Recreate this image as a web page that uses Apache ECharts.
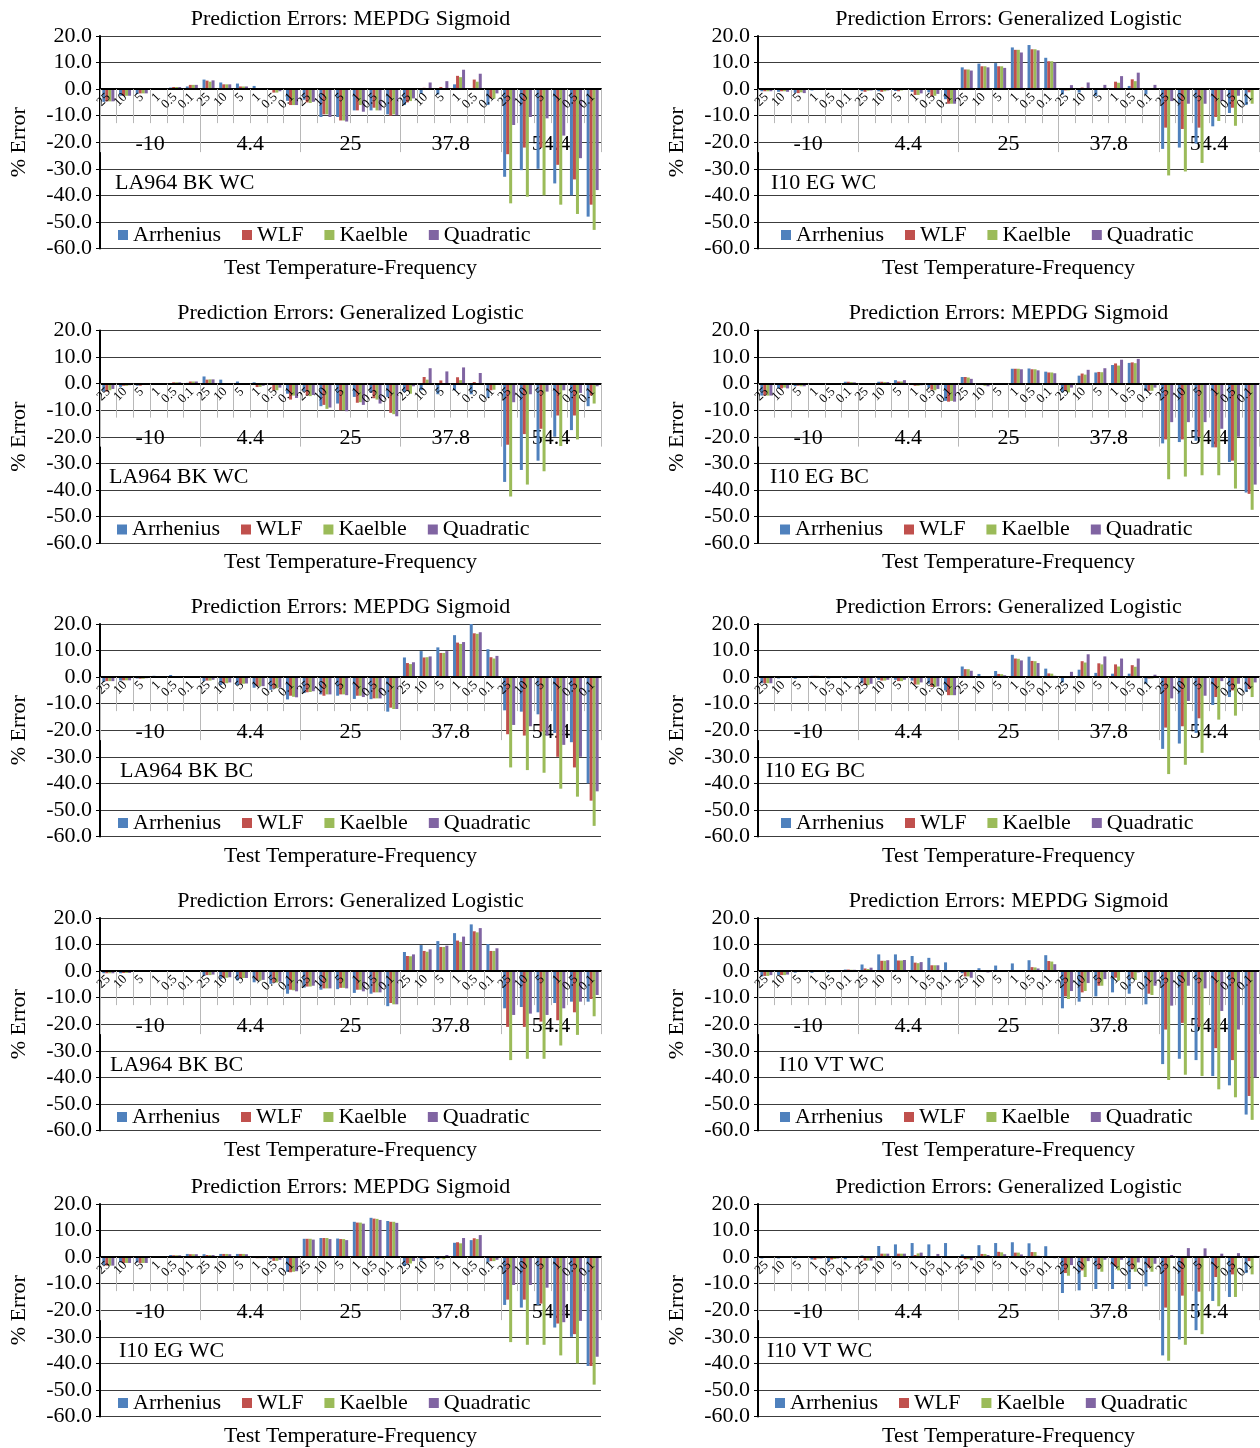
<!DOCTYPE html>
<html>
<head>
<meta charset="utf-8">
<script src="https://cdn.jsdelivr.net/npm/echarts@6/dist/echarts.min.js"></script>
<style>
  html, body { margin: 0; padding: 0; background: #ffffff; }
  #chart { width: 1260px; height: 1448px; }
</style>
</head>
<body>
<div id="chart"></div>
<script>
// Test temperatures (deg C) and loading frequencies (Hz)
const temperatures = ['-10', '4.4', '25', '37.8', '54.4'];
const frequencies = ['25', '10', '5', '1', '0.5', '0.1'];
const seriesNames = ['Arrhenius', 'WLF', 'Kaelble', 'Quadratic'];
const yMin = -60, yMax = 20, yStep = 10;

// Panel titles and mixture labels
const panelTitles = [
  'Prediction Errors: MEPDG Sigmoid', 'Prediction Errors: Generalized Logistic',
  'Prediction Errors: Generalized Logistic', 'Prediction Errors: MEPDG Sigmoid',
  'Prediction Errors: MEPDG Sigmoid', 'Prediction Errors: Generalized Logistic',
  'Prediction Errors: Generalized Logistic', 'Prediction Errors: MEPDG Sigmoid',
  'Prediction Errors: MEPDG Sigmoid', 'Prediction Errors: Generalized Logistic'
];
const panelMixes = [
  'LA964 BK WC', 'I10 EG WC',
  'LA964 BK WC', 'I10 EG BC',
  'LA964 BK BC', 'I10 EG BC',
  'LA964 BK BC', 'I10 VT WC',
  'I10 EG WC', 'I10 VT WC'
];
const xAxisTitle = 'Test Temperature-Frequency';
const yAxisTitle = '% Error';

// % error per temperature-frequency combination (30 per series)
// Panel 1: LA964 BK WC, MEPDG sigmoid
const p1Arrhenius = [-4.8,-2.5,-1.8,0.1,0.6,1.0, 3.6,2.5,2.1,1.2,-0.2,-4.4, -4.0,-10.5,-10.5,-8.0,-8.0,-9.5, -6.0,-1.8,-2.0,1.8,0.3,-6.0, -33.0,-30.5,-30.0,-35.5,-40.0,-48.0];
const p1WLF       = [-4.6,-2.5,-1.6,0.1,0.8,1.6, 3.2,1.8,1.0,0.1,-1.3,-6.0, -5.0,-9.5,-11.8,-8.0,-7.0,-10.0, -5.0,0.5,0.8,5.0,3.6,-3.5, -24.5,-22.0,-22.0,-28.5,-34.0,-43.5];
const p1Kaelble   = [-4.6,-2.5,-1.6,0.0,0.8,1.6, 2.8,1.8,1.0,0.0,-1.3,-6.0, -5.2,-9.5,-11.8,-6.0,-8.0,-9.5, -4.5,0.3,0.3,4.5,2.8,-3.6, -43.0,-40.5,-40.0,-43.5,-47.0,-53.0];
const p1Quadratic = [-4.6,-2.5,-1.6,0.0,0.8,1.6, 3.3,1.8,1.0,0.0,-0.8,-6.0, -4.8,-10.5,-12.2,-8.5,-8.0,-9.8, -3.5,2.5,3.0,7.3,5.8,-1.6, -13.5,-10.5,-11.0,-17.5,-26.0,-38.0];

// Panel 2: I10 EG WC, generalized logistic
const p2Arrhenius = [-0.8,-1.0,-1.4,-0.5,0.0,0.3, -0.8,-0.8,-0.7,-1.0,-1.2,-3.8, 8.2,9.6,9.8,15.7,16.6,11.8, -2.0,-1.3,-2.6,0.3,1.2,-2.0, -22.5,-22.0,-20.5,-14.0,-9.0,-6.0];
const p2WLF       = [-0.8,-0.8,-1.5,-0.2,0.0,0.3, -1.0,-1.0,-0.8,-2.2,-2.7,-5.5, 7.4,8.6,8.6,14.8,15.0,10.5, -0.5,0.6,-0.2,2.8,3.7,0.0, -14.5,-15.0,-14.5,-10.5,-7.0,-1.2];
const p2Kaelble   = [-0.8,-0.8,-1.2,0.0,0.0,0.3, -0.6,-0.8,-0.5,-2.2,-2.5,-5.5, 7.4,8.6,8.6,14.8,15.0,10.5, -0.5,0.2,-0.2,2.4,3.0,0.0, -32.5,-31.0,-27.8,-12.0,-13.8,-5.5];
const p2Quadratic = [-0.8,-1.0,-1.5,0.0,0.0,0.3, -0.5,-0.5,-0.3,-1.6,-1.8,-5.5, 7.0,8.2,8.0,13.8,14.6,10.0, 1.5,2.5,1.6,4.9,6.2,1.6, -4.5,-5.5,-5.5,-4.5,-2.5,-0.3];

// Panel 3: LA964 BK WC, generalized logistic
const p3Arrhenius = [-3.0,-1.2,-0.8,-0.1,0.2,0.3, 2.7,1.5,0.8,0.5,-0.2,-3.8, -3.0,-8.5,-7.5,-5.0,-3.5,-5.0, -3.2,-2.5,-4.0,-2.5,-4.0,-5.3, -37.0,-32.5,-29.0,-20.0,-17.5,-8.5];
const p3WLF       = [-3.0,-0.8,-0.8,-0.1,0.5,0.8, 1.5,0.0,-0.5,-1.3,-2.5,-6.0, -4.5,-8.0,-10.0,-7.2,-5.5,-11.0, -2.8,2.5,1.2,2.4,0.6,-2.5, -23.0,-19.0,-17.0,-12.0,-12.0,-4.5];
const p3Kaelble   = [-2.5,-0.8,-0.5,-0.1,0.5,0.8, 1.6,-0.3,-0.5,-1.2,-2.5,-4.5, -4.7,-9.5,-10.0,-7.0,-6.0,-11.5, -3.8,1.5,0.0,1.3,-0.3,-2.3, -42.5,-38.0,-33.0,-23.5,-21.0,-7.5];
const p3Quadratic = [-2.0,-0.6,-0.3,-0.1,0.5,0.8, 1.6,0.0,-0.5,-0.8,-1.5,-5.4, -4.3,-9.0,-10.4,-8.0,-7.5,-12.3, -1.0,5.8,4.6,6.1,4.0,-0.3, -7.0,-4.0,-3.0,-2.5,-3.5,-1.0];

// Panel 4: I10 EG BC, MEPDG sigmoid
const p4Arrhenius = [-4.5,-1.8,-1.0,0.1,0.0,0.7, -0.3,0.7,1.3,-0.5,-1.5,-6.5, 2.5,-0.5,0.2,5.6,5.7,4.5, -3.3,3.0,4.2,7.0,7.8,-2.8, -22.5,-22.0,-21.5,-24.0,-29.5,-41.0];
const p4WLF       = [-4.5,-1.8,-0.8,0.1,0.0,0.7, -0.4,0.7,0.8,-0.8,-2.3,-6.8, 2.5,-0.5,0.0,5.6,5.4,4.2, -2.8,3.8,4.4,7.6,8.0,-2.7, -21.0,-21.0,-20.0,-24.0,-29.0,-41.5];
const p4Kaelble   = [-4.5,-1.5,-1.0,0.1,0.0,0.6, -0.3,0.6,0.8,-0.8,-2.5,-6.5, 2.3,-0.8,0.0,5.6,5.4,4.2, -3.3,3.4,4.3,6.8,7.7,-2.7, -36.0,-35.0,-34.5,-34.5,-39.5,-47.5];
const p4Quadratic = [-4.5,-1.8,-1.0,0.1,0.0,0.5, -0.2,0.6,1.3,-0.6,-2.0,-6.8, 1.8,-1.0,0.0,5.4,5.0,3.9, -1.5,5.2,5.8,9.0,9.3,-1.5, -14.5,-14.5,-14.5,-17.0,-20.0,-38.0];

// Panel 5: LA964 BK BC, MEPDG sigmoid
const p5Arrhenius = [-1.8,-1.3,-0.5,0.5,0.8,0.4, -1.5,-3.0,-3.0,-4.0,-4.8,-8.4, -6.0,-6.5,-7.0,-8.2,-8.3,-13.0, 7.4,9.8,11.2,15.8,20.0,10.5, -12.5,-13.0,-14.0,-21.0,-24.5,-40.0];
const p5WLF       = [-1.5,-1.2,-0.6,0.3,0.4,0.1, -1.3,-2.3,-2.5,-3.4,-4.2,-7.0, -5.7,-7.0,-6.5,-7.0,-8.0,-11.5, 5.3,7.4,9.1,13.0,16.5,7.5, -21.5,-22.0,-20.5,-30.0,-34.0,-46.5];
const p5Kaelble   = [-1.5,-1.2,-0.6,0.3,0.4,0.1, -1.3,-2.3,-2.5,-3.4,-4.2,-7.4, -5.6,-6.5,-6.5,-7.0,-8.0,-12.0, 4.9,7.5,9.1,12.5,16.3,7.0, -34.0,-35.0,-36.0,-42.0,-45.0,-56.0];
const p5Quadratic = [-1.5,-1.2,-0.4,0.2,0.4,0.0, -1.0,-2.0,-2.4,-3.4,-4.0,-7.6, -5.3,-6.5,-6.8,-7.5,-8.0,-12.0, 5.6,7.8,9.8,13.2,16.9,8.0, -18.0,-18.5,-22.0,-25.5,-30.0,-43.0];

// Panel 6: I10 EG BC, generalized logistic
const p6Arrhenius = [-2.3,-0.5,-0.6,0.5,-0.5,-0.5, -2.3,-1.0,-1.0,-1.3,-2.5,-5.0, 4.0,1.2,2.3,8.4,7.7,3.2, -2.0,2.8,1.6,1.3,1.3,-2.5, -27.0,-25.0,-21.0,-10.5,-7.5,-5.5];
const p6WLF       = [-2.3,0.0,0.0,0.5,0.0,0.0, -3.0,-1.3,-1.5,-2.8,-3.7,-6.8, 3.0,0.4,1.2,7.0,6.1,1.4, 0.3,6.0,5.2,4.8,4.5,-0.5, -19.0,-18.5,-15.5,-7.5,-5.0,-4.5];
const p6Kaelble   = [-2.3,0.0,0.0,0.5,0.0,0.0, -3.0,-1.3,-1.5,-2.8,-3.7,-6.8, 3.0,0.3,1.1,6.9,6.0,1.3, 0.0,5.5,4.8,4.0,3.9,-0.5, -36.5,-33.0,-28.5,-16.0,-14.5,-7.5];
const p6Quadratic = [-2.3,0.0,0.0,0.3,0.0,0.0, -2.5,-1.0,-1.0,-2.0,-3.5,-6.8, 2.4,0.0,0.7,6.3,5.3,0.5, 2.0,8.6,7.8,7.0,7.0,0.9, -8.0,-9.0,-7.0,-1.5,-2.5,-2.0];

// Panel 7: LA964 BK BC, generalized logistic
const p7Arrhenius = [-0.8,-0.8,-0.3,0.3,0.4,0.0, -1.8,-3.0,-3.5,-4.2,-4.8,-8.5, -6.2,-7.0,-6.8,-8.2,-8.5,-13.2, 7.2,9.8,11.3,14.3,17.6,10.2, -14.0,-13.5,-15.5,-12.0,-11.5,-11.5];
const p7WLF       = [-0.8,-0.7,-0.3,0.2,0.3,0.0, -1.5,-2.5,-2.6,-3.5,-4.3,-7.0, -5.8,-6.5,-6.3,-7.0,-8.0,-12.0, 5.7,7.6,9.1,11.5,15.0,7.6, -21.0,-21.0,-19.0,-18.5,-15.5,-10.5];
const p7Kaelble   = [-0.8,-0.7,-0.3,0.2,0.3,0.0, -1.5,-2.5,-2.6,-3.5,-4.3,-7.2, -5.8,-6.5,-6.3,-7.0,-8.0,-12.5, 5.6,7.3,9.1,11.0,14.6,7.6, -33.5,-33.0,-33.0,-28.0,-24.0,-17.0];
const p7Quadratic = [-0.8,-0.7,-0.2,0.2,0.3,0.0, -1.3,-2.3,-2.6,-3.3,-4.0,-7.6, -5.5,-6.5,-6.5,-7.6,-8.0,-12.5, 6.3,8.2,9.6,13.0,16.2,8.6, -16.5,-16.0,-16.5,-14.0,-11.5,-9.0];

// Panel 8: I10 VT WC, MEPDG sigmoid
const p8Arrhenius = [-2.0,-1.5,-0.6,-0.6,-0.5,0.6, 2.5,6.3,6.3,5.7,5.0,3.3, -0.8,1.1,2.1,2.9,4.1,6.0, -14.0,-11.5,-9.5,-8.0,-8.5,-12.5, -35.0,-33.0,-33.5,-39.5,-43.0,-54.0];
const p8WLF       = [-1.8,-1.5,-0.3,-0.3,-0.3,0.6, 1.0,3.9,4.0,3.2,2.2,0.0, -2.0,-0.3,0.0,0.3,1.5,3.8, -9.5,-8.0,-5.5,-2.5,-2.5,-8.5, -22.0,-19.5,-21.0,-29.0,-33.5,-47.0];
const p8Kaelble   = [-1.8,-1.5,-0.3,-0.3,-0.3,0.5, 0.8,3.9,4.0,3.0,2.2,0.0, -2.0,-0.3,0.0,0.3,1.4,3.6, -10.5,-7.5,-5.5,-3.5,-3.3,-9.0, -41.0,-39.0,-39.5,-44.5,-47.5,-56.0];
const p8Quadratic = [-1.5,-1.3,-0.2,-0.2,-0.2,0.5, 1.3,4.1,4.2,3.4,2.2,-0.2, -2.5,-0.5,0.0,0.1,1.0,2.6, -7.5,-4.5,-3.0,-0.2,-0.5,-5.5, -13.0,-5.5,-6.5,-15.0,-22.0,-40.0];

// Panel 9: I10 EG WC, MEPDG sigmoid
const p9Arrhenius = [-3.0,-2.0,-2.0,0.0,0.8,1.2, 1.1,1.2,1.2,-0.3,-0.8,-5.5, 6.9,7.2,7.0,13.3,14.8,13.6, -3.3,-1.3,-0.8,5.4,6.4,-2.0, -18.0,-19.0,-18.0,-26.5,-30.0,-41.0];
const p9WLF       = [-3.2,-2.2,-2.2,0.0,0.7,1.1, 0.8,1.2,1.2,-0.4,-1.4,-5.7, 6.9,7.2,6.8,13.0,14.5,13.3, -2.4,-0.5,-0.4,5.6,7.1,-1.5, -16.0,-16.0,-17.5,-25.0,-29.0,-41.0];
const p9Kaelble   = [-3.2,-2.2,-2.2,0.0,0.7,1.1, 0.8,1.2,1.2,-0.4,-1.4,-5.5, 6.9,7.2,6.8,13.0,14.4,13.3, -2.4,0.1,-0.8,5.2,6.8,-1.5, -32.0,-33.0,-33.0,-37.0,-40.0,-48.0];
const p9Quadratic = [-3.2,-2.2,-2.2,0.0,0.7,1.1, 0.8,1.1,1.1,-0.4,-1.0,-5.3, 6.6,6.8,6.4,12.6,14.0,12.9, -1.5,0.2,0.8,7.2,8.3,-1.0, -10.5,-10.5,-11.5,-24.5,-24.0,-37.5];

// Panel 10: I10 VT WC, generalized logistic
const p10Arrhenius = [-0.5,-0.5,-0.5,-0.9,-1.7,-0.8, 0.6,4.2,4.8,5.3,4.8,5.3, 1.0,4.5,5.3,5.6,5.2,4.1, -13.5,-12.5,-12.0,-12.0,-12.0,-11.0, -37.0,-31.0,-27.5,-16.5,-15.0,-6.0];
const p10WLF       = [0.0,0.0,0.0,-1.0,-0.9,-0.2, -1.3,1.3,1.3,0.8,0.2,0.3, -0.8,1.2,2.0,1.7,1.9,0.0, -6.0,-5.0,-4.5,-3.5,-4.5,-4.0, -19.0,-14.5,-13.0,-7.5,-6.5,-1.5];
const p10Kaelble   = [0.0,0.0,0.0,-0.5,-0.7,-0.1, -1.3,1.3,1.3,1.4,0.2,0.2, -0.8,1.2,1.8,1.7,1.9,0.0, -7.0,-7.5,-5.5,-5.0,-5.5,-5.5, -39.0,-33.0,-29.0,-18.5,-15.0,-6.5];
const p10Quadratic = [0.0,0.0,0.0,-0.5,-0.5,0.0, -1.3,1.3,1.3,1.7,1.2,0.0, -1.2,0.8,1.1,1.0,0.5,-0.4, -3.0,-1.5,-1.0,-1.0,-2.0,-2.5, 0.8,3.4,3.3,1.3,1.5,0.5];

const panelSeries = [
  [p1Arrhenius, p1WLF, p1Kaelble, p1Quadratic],
  [p2Arrhenius, p2WLF, p2Kaelble, p2Quadratic],
  [p3Arrhenius, p3WLF, p3Kaelble, p3Quadratic],
  [p4Arrhenius, p4WLF, p4Kaelble, p4Quadratic],
  [p5Arrhenius, p5WLF, p5Kaelble, p5Quadratic],
  [p6Arrhenius, p6WLF, p6Kaelble, p6Quadratic],
  [p7Arrhenius, p7WLF, p7Kaelble, p7Quadratic],
  [p8Arrhenius, p8WLF, p8Kaelble, p8Quadratic],
  [p9Arrhenius, p9WLF, p9Kaelble, p9Quadratic],
  [p10Arrhenius, p10WLF, p10Kaelble, p10Quadratic]
];

// ---- layout and styling ----
const FONT = '"Liberation Serif", "Times New Roman", serif';
const COLORS = ['#4F81BD', '#C0504D', '#9BBB59', '#8064A2'];
const colLeft = [100, 758];
const rowTop = [36, 330.5, 624, 918, 1204];
const plotW = 501, plotH = 212.5;
// height from the top of the plot down to the zero line
const zeroOffset = plotH * (yMax - 0) / (yMax - yMin);
const mixLabelLeft = [115, 771, 109, 770, 120, 766, 110, 779, 119, 767];
const legendLeft = [118, 781, 117, 780, 118, 781, 117, 780, 118, 775];

const categoryKeys = temperatures.flatMap(t => frequencies.map(f => t + '|' + f));

const grid = [], xAxis = [], yAxis = [], series = [], legend = [], title = [];

panelSeries.forEach((vals, i) => {
  const col = i % 2, row = Math.floor(i / 2);
  const left = colLeft[col], top = rowTop[row];
  const cx = left + plotW / 2;
  const gMain = 2 * i, gAxis = 2 * i + 1;

  // plotting area
  grid.push({ left: left, top: top, width: plotW, height: plotH, containLabel: false, outerBoundsMode: 'none' });
  // strip whose bottom edge is the zero line; carries the two-level category axis
  grid.push({ left: left, top: top, width: plotW, height: zeroOffset, containLabel: false, outerBoundsMode: 'none' });

  // value axis of the plot
  yAxis.push({
    type: 'value', gridIndex: gMain, min: yMin, max: yMax, interval: yStep,
    axisLine: { show: true, lineStyle: { color: '#000', width: 2 } },
    axisTick: { show: true, length: 4, lineStyle: { color: '#000' } },
    axisLabel: { formatter: v => v.toFixed(1), fontFamily: FONT, fontSize: 22, color: '#000', margin: 8 },
    splitLine: { show: true, lineStyle: { color: '#3c3c3c', width: 1 } },
    name: yAxisTitle, nameLocation: 'middle', nameGap: 70,
    nameTextStyle: { fontFamily: FONT, fontSize: 22, color: '#000' }
  });
  // placeholder value axis for the category strip
  yAxis.push({ type: 'value', gridIndex: gAxis, min: 0, max: 1, show: false });

  // category axis the bars are placed on
  xAxis.push({
    type: 'category', gridIndex: gMain, data: categoryKeys, show: false
  });
  // frequency level of the category axis (drawn at zero)
  xAxis.push({
    type: 'category', gridIndex: gAxis, data: categoryKeys, position: 'bottom', z: 3,
    axisLine: { show: true, onZero: false, lineStyle: { color: '#000', width: 2 } },
    axisTick: { show: true, interval: 0, length: 34, lineStyle: { color: '#b8b8b8' } },
    axisLabel: {
      interval: 0, rotate: 45, margin: 6, fontFamily: FONT, fontSize: 13, color: '#000',
      formatter: v => v.split('|')[1]
    },
    splitLine: { show: false }
  });
  // temperature level of the category axis
  xAxis.push({
    type: 'category', gridIndex: gAxis, data: temperatures, position: 'bottom',
    axisLine: { show: false, onZero: false },
    axisTick: { show: true, interval: 0, length: 63, lineStyle: { color: '#b8b8b8' } },
    axisLabel: { interval: 0, margin: 44, fontFamily: FONT, fontSize: 22, color: '#000' },
    splitLine: { show: false }
  });

  vals.forEach((arr, s) => {
    series.push({
      name: seriesNames[s], type: 'bar', xAxisIndex: 3 * i, yAxisIndex: 2 * i,
      data: arr, barGap: '0%', barCategoryGap: '28%',
      itemStyle: { color: COLORS[s] }
    });
  });

  legend.push({
    data: seriesNames, left: legendLeft[i], top: top + 188, orient: 'horizontal',
    icon: 'rect', itemWidth: 10, itemHeight: 10, itemGap: 21, padding: 0,
    textStyle: { fontFamily: FONT, fontSize: 22, color: '#000', lineHeight: 22 }
  });

  title.push({
    text: panelTitles[i], left: cx, top: top - 30, textAlign: 'center', padding: 0,
    textStyle: { fontFamily: FONT, fontSize: 22, fontWeight: 'normal', color: '#000', lineHeight: 26 }
  });
  title.push({
    text: panelMixes[i], left: mixLabelLeft[i], top: top + 134, padding: 0,
    textStyle: { fontFamily: FONT, fontSize: 22, fontWeight: 'normal', color: '#000', lineHeight: 26 }
  });
  title.push({
    text: xAxisTitle, left: cx, top: top + 219, textAlign: 'center', padding: 0,
    textStyle: { fontFamily: FONT, fontSize: 22, fontWeight: 'normal', color: '#000', lineHeight: 26 }
  });
});

const chart = echarts.init(document.getElementById('chart'), null, { renderer: 'canvas' });
chart.setOption({
  backgroundColor: '#ffffff',
  animation: false,
  title: title,
  legend: legend,
  grid: grid,
  xAxis: xAxis,
  yAxis: yAxis,
  series: series
});
</script>
</body>
</html>
